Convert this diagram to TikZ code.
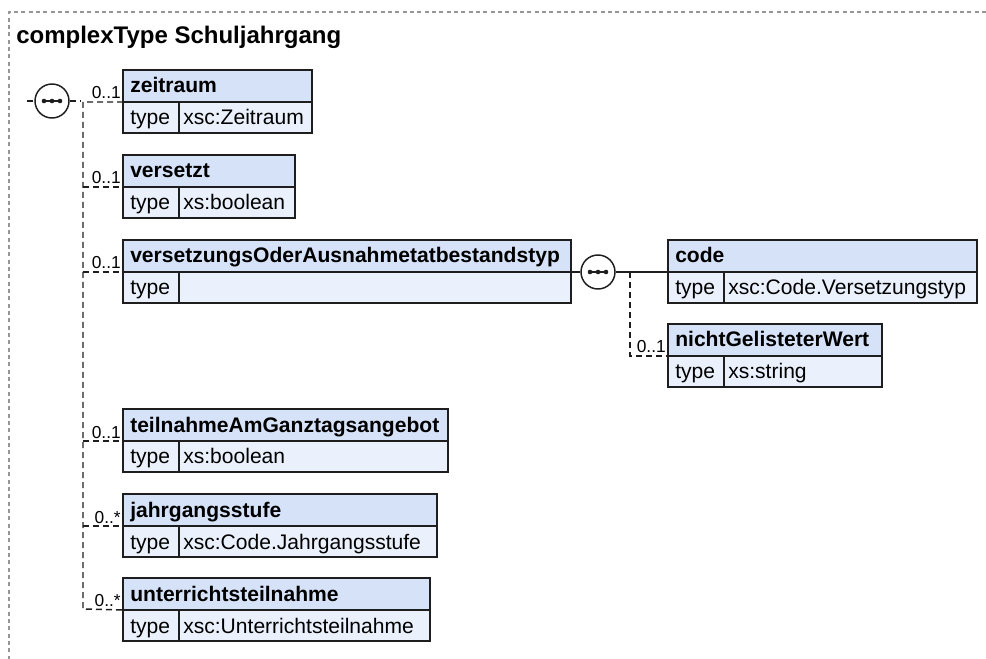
\documentclass[tikz,border=0pt]{standalone}
\usepackage{fontspec}
\setmainfont{Liberation Sans}
\definecolor{hdrc}{RGB}{214,226,248}
\definecolor{rowc}{RGB}{234,241,252}
\definecolor{linec}{RGB}{30,30,30}
\definecolor{framec}{RGB}{150,150,150}
\tikzset{
  boxline/.style={draw=linec,line width=1.5pt},
  conn/.style={draw=linec,line width=1.1pt,dash pattern=on 4.5pt off 3pt},
  solidconn/.style={draw=linec,line width=1.1pt},
  hdrtext/.style={anchor=base west,inner sep=0pt,font=\fontsize{15.8}{17}\selectfont\bfseries},
  typetext/.style={anchor=base west,inner sep=0pt,font=\fontsize{15.8}{17}\selectfont},
  occ/.style={anchor=base east,inner sep=0pt,font=\fontsize{13}{14}\selectfont},
  seqcirc/.style={circle,draw=linec,line width=1.1pt,fill=white,minimum size=25.5pt,inner sep=0pt},
}
\newcommand\xsdbox[7]{%
  \path[fill=hdrc] (#2,#4) rectangle (#3,#4+32);
  \path[fill=rowc] (#2,#4+32) rectangle (#3,#4+63);
  \draw[boxline] (#2,#4) rectangle (#3,#4+63);
  \draw[boxline] (#2,#4+32) -- (#3,#4+32);
  \draw[boxline] (#5,#4+32) -- (#5,#4+63);
  \node[hdrtext] (#1-h) at (#2+7,#4+23) {#6};
  \node[typetext] (#1-t) at (#2+7,#4+55) {type};
  \node[typetext] (#1-v) at (#5+4,#4+55) {#7};
  \coordinate (#1) at (#2,#4+32);
}
\newcommand\seqsym[3]{%
  \node[seqcirc] (#1) at (#2,#3) {};
  \draw[linec,line width=1.1pt] (#2-8,#3) -- (#2+8,#3);
  \fill[linec] (#2-8,#3) circle (2.3) (#2,#3) circle (2.3) (#2+8,#3) circle (2.3);
}
\begin{document}
\begin{tikzpicture}[x=0.75pt,y=-0.75pt]
\useasboundingbox (0,0) rectangle (986,659);
% frame
\draw[framec,line width=0.8pt,dash pattern=on 3pt off 2.5pt] (986,12) -- (9,12) -- (9,659);
\node[anchor=base west,inner sep=0pt,font=\fontsize{18}{20}\selectfont\bfseries] (title) at (16,44) {complexType Schuljahrgang};

% boxes
\xsdbox{zeitraum}{123}{312}{70}{179}{zeitraum}{xsc:Zeitraum}
\xsdbox{versetzt}{123}{295}{155}{179}{versetzt}{xs:boolean}
\xsdbox{vers}{123}{571}{240}{179}{versetzungsOderAusnahmetatbestandstyp}{}
\xsdbox{teil}{123}{448}{409}{179}{teilnahmeAmGanztagsangebot}{xs:boolean}
\xsdbox{jahr}{123}{437}{494}{179}{jahrgangsstufe}{xsc:Code.Jahrgangsstufe}
\xsdbox{unter}{123}{430}{578}{179}{unterrichtsteilnahme}{xsc:Unterrichtsteilnahme}
\xsdbox{code}{668}{977}{240}{724}{code}{xsc:Code.Versetzungstyp}
\xsdbox{nicht}{668}{882}{324}{724}{nichtGelisteterWert}{xs:string}

% first sequence
\coordinate (inL) at (27,101);
\seqsym{seqA}{52}{101}
\draw[conn] (inL) -- (seqA.west);
\coordinate (seqAout) at (80,101);
\draw[conn] (seqA.east) -- (seqAout);
\coordinate (busTop) at (83,102);
\coordinate (busBot) at (83,609);
\draw[conn] (zeitraum) -- (busTop) -- (busBot) -- (unter);
\foreach \n/\yy in {versetzt/187,vers/272,teil/441,jahr/526}{
  \draw[conn] (83,\yy) -- (\n);
}
\node[occ] (o1) at (121,99) {0..1};
\node[occ] (o2) at (121,184) {0..1};
\node[occ] (o3) at (121,269) {0..1};
\node[occ] (o4) at (121,438) {0..1};
\node[occ] (o5) at (121,523) {0..*};
\node[occ] (o6) at (121,606) {0..*};

% second sequence
\coordinate (versR) at (571,272);
\seqsym{seqB}{598}{272}
\draw[solidconn] (versR) -- (seqB.west);
\draw[solidconn] (seqB.east) -- (code);
\coordinate (busB) at (630,272);
\draw[conn] (busB) -- (630,356) -- (nicht);
\node[occ] (o7) at (666,353) {0..1};
\end{tikzpicture}
\end{document}
